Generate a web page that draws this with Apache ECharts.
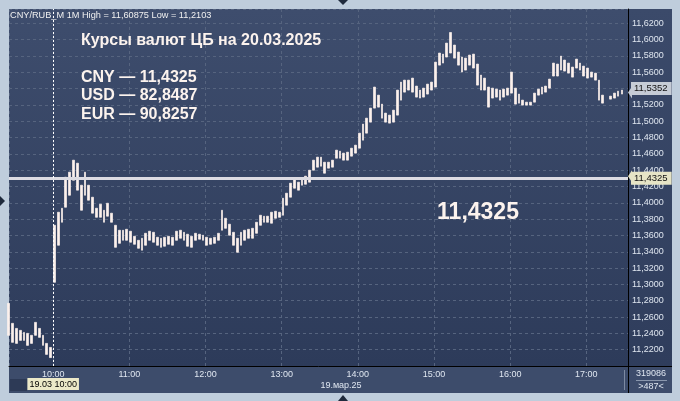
<!DOCTYPE html>
<html><head><meta charset="utf-8">
<script src="https://cdn.jsdelivr.net/npm/echarts@6/dist/echarts.min.js"></script>
<style>html,body{margin:0;padding:0;background:#bfcddc;}#c{width:680px;height:401px;}</style>
</head><body><div id="c"></div>
<script>
// ---- data ----
const headerText = 'CNY/RUB_M 1M High = 11,60875 Low = 11,2103';
const titleText = 'Курсы валют ЦБ на 20.03.2025';
const rateLabels = ['CNY — 11,4325', 'USD — 82,8487', 'EUR — 90,8257'];
const cbRate = 11.4325;
const cbRateText = '11,4325';
const lastPrice = 11.5352;
const dateLabel = '19.мар.25';
const cursorLabel = '19.03 10:00';
const volumeText = '319086';
const barsText = '>487<';
// bar start times, minutes from 10:00 on 19.03.2025
const barMinutes = [-35,-32,-29,-26,-23,-20,-17,-14,-11,-8,-5,-2,1,4,7,10,13,16,19,22,25,28,31,34,37,40,43,46,49,52,55,58,61,64,67,70,73,76,79,82,85,88,91,94,97,100,103,106,109,112,115,118,121,124,127,130,133,136,139,142,145,148,151,154,157,160,163,166,169,172,175,178,181,184,187,190,193,196,199,202,205,208,211,214,217,220,223,226,229,232,235,238,241,244,247,250,253,256,259,262,265,268,271,274,277,280,283,286,289,292,295,298,301,304,307,310,313,316,319,322,325,328,331,334,337,340,343,346,349,352,355,358,361,364,367,370,373,376,379,382,385,388,391,394,397,400,403,406,409,412,415,418,421,424,427,430,433,439,442,445,448];
const barHigh = [11.2768,11.2523,11.2461,11.2437,11.2412,11.2400,11.2376,11.2535,11.2461,11.2376,11.2277,11.2228,
11.3725,11.3885,11.3934,11.4314,11.4376,11.4523,11.4486,11.4216,11.4376,11.4216,11.4069,11.3934,11.3983,11.3909,11.3995,11.3873,
11.3725,11.3664,11.3664,11.3676,11.3652,11.3590,11.3541,11.3566,11.3627,11.3652,11.3639,11.3578,11.3566,11.3578,11.3590,11.3578,
11.3652,11.3664,11.3639,11.3615,11.3590,11.3627,11.3615,11.3603,11.3578,11.3566,11.3578,11.3627,11.3909,11.3811,11.3738,11.3639,
11.3566,11.3639,11.3664,11.3676,11.3688,11.3762,11.3848,11.3836,11.3836,11.3885,11.3897,11.3885,11.4057,11.4118,11.4241,11.4290,
11.4253,11.4302,11.4327,11.4400,11.4523,11.4560,11.4560,11.4498,11.4498,11.4523,11.4646,11.4633,11.4609,11.4621,11.4670,11.4707,
11.4854,11.4965,11.5038,11.5161,11.5419,11.5320,11.5210,11.5100,11.5075,11.5136,11.5382,11.5480,11.5504,11.5504,11.5529,11.5431,
11.5382,11.5406,11.5455,11.5480,11.5725,11.5836,11.5823,11.5958,11.6088,11.5934,11.5848,11.5787,11.5774,11.5811,11.5823,11.5701,
11.5566,11.5529,11.5419,11.5406,11.5394,11.5382,11.5394,11.5406,11.5603,11.5406,11.5333,11.5259,11.5234,11.5234,11.5345,11.5394,
11.5419,11.5431,11.5517,11.5713,11.5701,11.5799,11.5750,11.5713,11.5664,11.5762,11.5713,11.5676,11.5652,11.5603,11.5590,11.5504,
11.5320,11.5308,11.5345,11.5369,11.5382];
const barLow = [11.2376,11.2290,11.2277,11.2314,11.2314,11.2253,11.2277,11.2376,11.2351,11.2253,11.2142,11.2103,
11.3026,11.3480,11.3762,11.3946,11.4093,11.4277,11.4155,11.3909,11.4093,11.4032,11.3873,11.3823,11.3823,11.3762,11.3836,11.3762,
11.3455,11.3504,11.3541,11.3541,11.3517,11.3492,11.3443,11.3419,11.3480,11.3541,11.3517,11.3480,11.3455,11.3468,11.3492,11.3480,
11.3541,11.3566,11.3541,11.3468,11.3455,11.3541,11.3554,11.3541,11.3480,11.3492,11.3504,11.3541,11.3664,11.3688,11.3603,11.3480,
11.3394,11.3480,11.3541,11.3566,11.3566,11.3627,11.3725,11.3762,11.3762,11.3750,11.3811,11.3823,11.3848,11.3971,11.4069,11.4179,
11.4155,11.4216,11.4228,11.4253,11.4400,11.4437,11.4449,11.4363,11.4425,11.4437,11.4547,11.4547,11.4523,11.4523,11.4572,11.4609,
11.4670,11.4768,11.4854,11.4989,11.5161,11.5173,11.5038,11.4989,11.4977,11.4989,11.5075,11.5259,11.5357,11.5382,11.5357,11.5296,
11.5284,11.5296,11.5333,11.5382,11.5419,11.5688,11.5713,11.5787,11.5836,11.5774,11.5688,11.5603,11.5627,11.5688,11.5652,11.5443,
11.5382,11.5382,11.5173,11.5284,11.5296,11.5259,11.5296,11.5320,11.5345,11.5210,11.5222,11.5198,11.5198,11.5198,11.5234,11.5320,
11.5333,11.5357,11.5406,11.5554,11.5554,11.5627,11.5615,11.5590,11.5541,11.5652,11.5627,11.5554,11.5529,11.5541,11.5504,11.5259,
11.5222,11.5271,11.5284,11.5308,11.5333];
// ---- axis settings ----
const yMin = 11.20, yMax = 11.6376, yStep = 0.02;
const xStartMin = -34.8, xEndMin = 452.8;

const FONT = '"Liberation Sans", Arial, sans-serif';
const base = new Date(2025, 2, 19, 10, 0, 0).getTime();
const T = m => base + m * 60000;
const fmt = v => v.toFixed(4).replace('.', ',');
const candles = barMinutes.map((m, i) => [T(m), barLow[i], barHigh[i], barLow[i], barHigh[i]]);
const BAR = '#fcf1ec';

const chart = echarts.init(document.getElementById('c'), null, {renderer: 'canvas'});
const option = {
  backgroundColor: '#bfcddc',
  animation: false,
  grid: {left: 9, top: 9, right: 52, bottom: 35, show: true, borderWidth: 0, containLabel: false, outerBoundsMode: 'none',
    backgroundColor: {type: 'linear', x: 0, y: 0, x2: 0, y2: 1, colorStops: [{offset: 0, color: '#3e4d6d'}, {offset: 1, color: '#2d3b5a'}]}},
  xAxis: {
    type: 'time', min: T(xStartMin), max: T(xEndMin), minInterval: 3600000, maxInterval: 3600000, splitNumber: 8,
    axisLine: {show: true, lineStyle: {color: '#000', width: 1}},
    axisTick: {show: false},
    axisLabel: {color: '#dfe6f0', fontSize: 9, fontFamily: FONT, margin: 4, hideOverlap: false, showMinLabel: true, showMaxLabel: true,
      formatter: v => { const d = new Date(v); return (d.getMinutes() === 0 && d.getSeconds() === 0) ? (d.getHours() < 10 ? '0' : '') + d.getHours() + ':00' : ''; }},
    splitLine: {show: true, lineStyle: {color: '#56647f', type: [3, 3], width: 1}}
  },
  yAxis: {
    type: 'value', position: 'right', min: yMin, max: yMax, interval: yStep, scale: true,
    axisLine: {show: true, lineStyle: {color: '#000', width: 1}},
    axisTick: {show: false},
    axisLabel: {color: '#dfe6f0', fontSize: 9, fontFamily: FONT, margin: 4, hideOverlap: false, showMinLabel: true, showMaxLabel: true,
      formatter: v => { const k = (v - yMin) / yStep; return (Math.abs(k - Math.round(k)) < 1e-6 && v > yMin + 0.001) ? fmt(v) : ''; }},
    splitLine: {show: true, lineStyle: {color: '#56647f', type: [3, 3], width: 1}}
  },
  series: [{
    type: 'candlestick', data: candles, barWidth: 2.3, clip: true,
    itemStyle: {color: BAR, color0: BAR, borderColor: BAR, borderColor0: BAR, borderWidth: 0.7},
    markLine: {
      silent: true, symbol: 'none', animation: false,
      data: [
        {yAxis: cbRate, lineStyle: {color: '#dddce3', width: 3, type: 'solid'},
          label: {show: true, position: 'end', distance: 3, formatter: cbRateText, backgroundColor: '#e6e4c6', color: '#111', fontSize: 9.5, fontFamily: FONT, padding: [2, 4, 1, 3]}},
        {yAxis: lastPrice, lineStyle: {color: 'rgba(0,0,0,0)', width: 0},
          label: {show: true, position: 'end', distance: 3, formatter: fmt(lastPrice), backgroundColor: '#c6ccd6', color: '#111', fontSize: 9.5, fontFamily: FONT, padding: [2, 4, 1, 3]}},
        {xAxis: T(0), lineStyle: {color: '#ffffff', width: 1, type: [2, 2]},
          label: {show: true, position: 'start', distance: 12, formatter: cursorLabel, backgroundColor: '#ece9c8', color: '#000', fontSize: 9, fontFamily: FONT, padding: [2, 2, 1, 2]}}
      ]
    }
  }]
};
chart.setOption(option);

const yCb = chart.convertToPixel({yAxisIndex: 0}, cbRate);
const yLast = chart.convertToPixel({yAxisIndex: 0}, lastPrice);
const txt = (x, y, s, font, fill, align) => ({type: 'text', x: x, y: y, z: 100, silent: true,
  style: {text: s, fill: fill, font: font, textVerticalAlign: 'middle', textAlign: align || 'left'}});
const BOLD16 = 'bold 16px ' + FONT;
chart.setOption({graphic: [
  {type: 'rect', z: -5, shape: {x: 628, y: 9, width: 44, height: 357}, style: {fill: {type: 'linear', x: 0, y: 0, x2: 0, y2: 1, colorStops: [{offset: 0, color: '#3b4a6a'}, {offset: 1, color: '#2f3d5c'}]}}},
  {type: 'rect', z: -5, shape: {x: 9, y: 366, width: 663, height: 27}, style: {fill: '#3d4c6b'}},
  {type: 'rect', z: 5, shape: {x: 10, y: 379, width: 17, height: 12}, style: {fill: '#2d3a56'}},
  {type: 'line', z: 10, shape: {x1: 628.5, y1: 366, x2: 628.5, y2: 393}, style: {stroke: '#000', lineWidth: 1}},
  {type: 'line', z: 10, shape: {x1: 624.5, y1: 370, x2: 624.5, y2: 390}, style: {stroke: '#7d8aa2', lineWidth: 1}},
  {type: 'line', z: 10, shape: {x1: 628, y1: 366.5, x2: 672, y2: 366.5}, style: {stroke: '#000', lineWidth: 1}},
  {type: 'line', z: 10, shape: {x1: 636, y1: 380.5, x2: 667, y2: 380.5}, style: {stroke: '#8a97ad', lineWidth: 1}},
  {type: 'polygon', z: 100, shape: {points: [[628, yCb], [632, yCb - 6], [632, yCb + 6]]}, style: {fill: '#e6e4c6'}},
  {type: 'polygon', z: 100, shape: {points: [[628, yLast], [632, yLast - 6], [632, yLast + 6]]}, style: {fill: '#c6ccd6'}},
  {type: 'polygon', z: 100, shape: {points: [[338, 0], [348, 0], [343, 5]]}, style: {fill: '#1f2a3c'}},
  {type: 'polygon', z: 100, shape: {points: [[338, 401], [348, 401], [343, 395]]}, style: {fill: '#1f2a3c'}},
  {type: 'polygon', z: 100, shape: {points: [[0, 196], [0, 206], [5, 201]]}, style: {fill: '#1f2a3c'}},
  txt(10, 15, headerText, '9.2px ' + FONT, '#f0f0f0'),
  txt(81, 40.5, titleText, BOLD16, '#fcf3ee'),
  txt(81, 77.5, rateLabels[0], BOLD16, '#fcf3ee'),
  txt(81, 96, rateLabels[1], BOLD16, '#fcf3ee'),
  txt(81, 114.5, rateLabels[2], BOLD16, '#fcf3ee'),
  txt(478, 213, cbRateText, 'bold 23px ' + FONT, '#fcf3ee', 'center'),
  txt(341, 386, dateLabel, '9px ' + FONT, '#dfe6f0', 'center'),
  txt(651, 373.5, volumeText, '9px ' + FONT, '#dfe6f0', 'center'),
  txt(651, 387, barsText, '9px ' + FONT, '#dfe6f0', 'center')
]});
</script></body></html>
